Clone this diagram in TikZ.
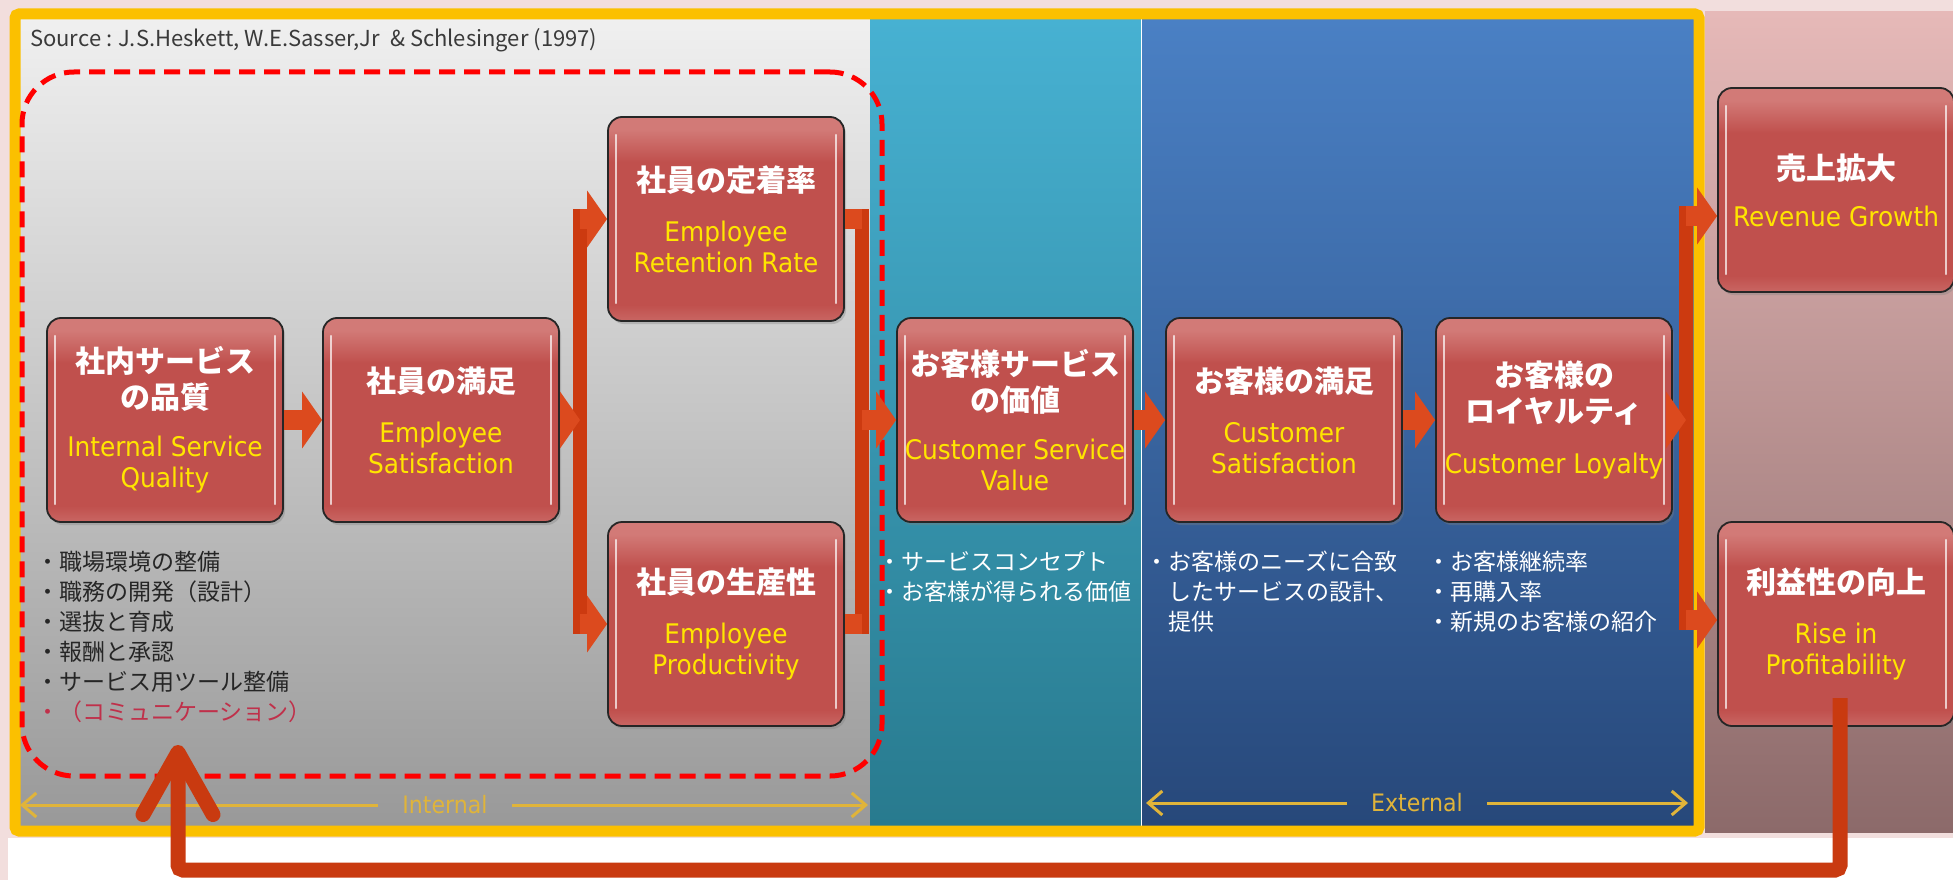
\documentclass[tikz,border=0pt]{standalone}
\usepackage{fontspec}
\newfontfamily\myjp{Noto Sans CJK JP}
\newfontfamily\myen[FakeStretch=0.92]{DejaVu Sans}
\usetikzlibrary{arrows.meta,shadows}
\definecolor{boxred}{HTML}{C0504D}
\definecolor{boxtop}{HTML}{D27A77}
\definecolor{boxbot}{HTML}{C96663}
\definecolor{engyel}{HTML}{FFE500}
\definecolor{arrowred}{HTML}{DC4A1E}
\definecolor{barred}{HTML}{CC3A10}
\definecolor{fbred}{HTML}{C93A10}
\definecolor{frameyel}{HTML}{FBC000}
\definecolor{gold}{HTML}{E0B43A}
\definecolor{srcgray}{HTML}{3A3A3A}
\definecolor{commred}{HTML}{C0304A}
\definecolor{bgpink}{HTML}{F2DEDD}
\pgfdeclareverticalshading{boxshade}{100bp}{color(0bp)=(boxbot); color(25bp)=(boxbot); color(29bp)=(boxred); color(64bp)=(boxred); color(72bp)=(boxtop); color(75bp)=(boxtop); color(100bp)=(boxtop)}
\newcommand\ttlf{\myjp\bfseries\fontsize{30}{31}\selectfont}
\newcommand\enf{\myen\mdseries\fontsize{27}{30}\selectfont\color{engyel}}
\begin{document}
\begin{tikzpicture}[x=1pt,y=-1pt,
 box/.style={rectangle,rounded corners=14pt,draw=black!85,line width=1.8pt,
   minimum width=236pt,minimum height=204pt,inner sep=0pt,align=center,
   font=\ttlf,text=white,
   shading=boxshade,
   drop shadow={opacity=0.35,shadow xshift=2pt,shadow yshift=-3pt},
   path picture={
     \draw[white,opacity=.7,line width=2.4pt,line cap=round]
       ([xshift=8pt,yshift=-18pt]path picture bounding box.north west) --
       ([xshift=8pt,yshift=18pt]path picture bounding box.south west);
     \draw[white,opacity=.7,line width=2.4pt,line cap=round]
       ([xshift=-8pt,yshift=-18pt]path picture bounding box.north east) --
       ([xshift=-8pt,yshift=18pt]path picture bounding box.south east);
   }},
 blk/.style={draw=arrowred,line width=20pt,-{Triangle[length=20pt,width=56pt]}},
 stub/.style={draw=arrowred,line width=20pt},
 bar/.style={draw=barred,line width=14pt},
 goldarr/.style={draw=gold,line width=3pt,-{Straight Barb[length=14pt,width=24pt]}},
 lbl/.style={text=gold,font=\myen\fontsize{24}{26}\selectfont,inner xsep=24pt,inner ysep=0pt},
 lst/.style={align=left,anchor=north west,inner sep=0pt,font=\myjp\fontsize{23}{30}\selectfont},
 fb/.style={draw=fbred,line width=15pt,rounded corners=5pt,-{Straight Barb[length=62pt,width=70pt,round]}},
 dashbox/.style={draw=red,line width=5pt,dash pattern=on 16pt off 9pt,rounded corners=52pt,minimum width=860pt,minimum height=704pt,inner sep=0pt}
]
\useasboundingbox (0,0) rectangle (1953,880);
% background
\fill[white] (0,0) rectangle (1953,880);
\fill[bgpink] (0,0) rectangle (1953,838);
\fill[bgpink] (0,0) rectangle (8,880);
% panels
\shade[top color=black!6,bottom color=black!40] (20,19) rectangle (870,826);
\shade[top color={rgb,255:red,71;green,177;blue,210},bottom color={rgb,255:red,40;green,122;blue,142}] (870,19) rectangle (1141,826);
\shade[top color={rgb,255:red,74;green,128;blue,196},bottom color={rgb,255:red,39;green,72;blue,122}] (1141,19) rectangle (1694,826);
\shade[top color={rgb,255:red,230;green,185;blue,184},bottom color={rgb,255:red,140;green,106;blue,106}] (1705,12) rectangle (1953,832);
\draw[white,line width=1pt] (1141,19) -- (1141,826);
\draw[frameyel,line width=11pt,rounded corners=4pt] (15,14) rectangle (1699,831);
% source
\node[anchor=west,text=srcgray,font=\myjp\fontsize{22}{24}\selectfont,inner sep=0pt] (src) at (30,40)
  {Source : J.S.Heskett, W.E.Sasser,Jr\ \ \& Schlesinger (1997)};
% dashed group
\node[dashbox] (grp) at (452,424) {};
% lists
\node[lst,text=black!85] (l1) at (36,551) {・職場環境の整備\\・職務の開発（設計）\\・選抜と育成\\・報酬と承認\\・サービス用ツール整備\\\color{commred}・（コミュニケーション）};
\node[lst,text=white] (l2) at (878,551) {・サービスコンセプト\\・お客様が得られる価値};
\node[lst,text=white] (l3) at (1145,551) {・お客様のニーズに合致\\\hspace*{1em}したサービスの設計、\\\hspace*{1em}提供};
\node[lst,text=white] (l4) at (1427,551) {・お客様継続率\\・再購入率\\・新規のお客様の紹介};
% boxes
\node[box] (isq) at (165,420) {社内サービス\\[5pt]の品質\\[17pt]\enf Internal Service\\\enf Quality};
\node[box] (es) at (441,420) {社員の満足\\[19pt]\enf Employee\\\enf Satisfaction};
\node[box] (err) at (726,219) {社員の定着率\\[19pt]\enf Employee\\\enf Retention Rate};
\node[box] (ep) at (726,624) {社員の生産性\\[19pt]\enf Employee\\\enf Productivity};
\node[box] (csv) at (1015,420) {お客様サービス\\[5pt]の価値\\[17pt]\enf Customer Service\\\enf Value};
\node[box] (cs) at (1284,420) {お客様の満足\\[19pt]\enf Customer\\\enf Satisfaction};
\node[box] (cl) at (1554,420) {お客様の\\[5pt]ロイヤルティ\\[20pt]\enf Customer Loyalty};
\node[box] (rg) at (1836,190) {売上拡大\\[16pt]\enf Revenue Growth};
\node[box] (rp) at (1836,624) {利益性の向上\\[19pt]\enf Rise in\\\enf Profitability};
% bars
\coordinate (barLt) at (580,209); \coordinate (barLb) at (580,634);
\coordinate (barRt) at (862,209); \coordinate (barRb) at (862,634);
\coordinate (barEt) at (1686,206); \coordinate (barEb) at (1686,630);
\coordinate (rgin) at ([yshift=-26pt]rg.west);
\coordinate (rpin) at ([yshift=4pt]rp.west);
\draw[bar] (barLt) -- (barLb);
\draw[bar] (barRt) -- (barRb);
\draw[bar] (barEt) -- (barEb);
% arrows
\draw[blk] (isq.east) -- (es.west);
\draw[blk] (es.east) -- (es.east -| barLt);
\draw[blk] (err.west -| barLt) -- (err.west);
\draw[blk] (ep.west -| barLt) -- (ep.west);
\draw[stub] (err.east) -- (err.east -| barRt);
\draw[stub] (ep.east) -- (ep.east -| barRt);
\draw[blk] (csv.west -| barRt) -- (csv.west);
\draw[blk] (csv.east) -- (cs.west);
\draw[blk] (cs.east) -- (cl.west);
\draw[blk] (cl.east) -- (cl.east -| barEt);
\draw[blk] (rgin -| barEt) -- (rgin);
\draw[blk] (rpin -| barEt) -- (rpin);
% internal / external
\node[lbl] (intl) at (445,805) {Internal};
\coordinate (intlL) at (20,805); \coordinate (intlR) at (868,805);
\draw[goldarr] (intl.west) -- (intlL);
\draw[goldarr] (intl.east) -- (intlR);
\node[lbl] (extl) at (1417,803) {External};
\coordinate (extlL) at (1146,803); \coordinate (extlR) at (1688,803);
\draw[goldarr] (extl.west) -- (extlL);
\draw[goldarr] (extl.east) -- (extlR);
% feedback
\coordinate (fbstart) at (1840,698);
\coordinate (fbend) at (178,745);
\draw[fb] (fbstart) -- (1840,870) -- (178,870) -- (fbend);
\end{tikzpicture}
\end{document}
